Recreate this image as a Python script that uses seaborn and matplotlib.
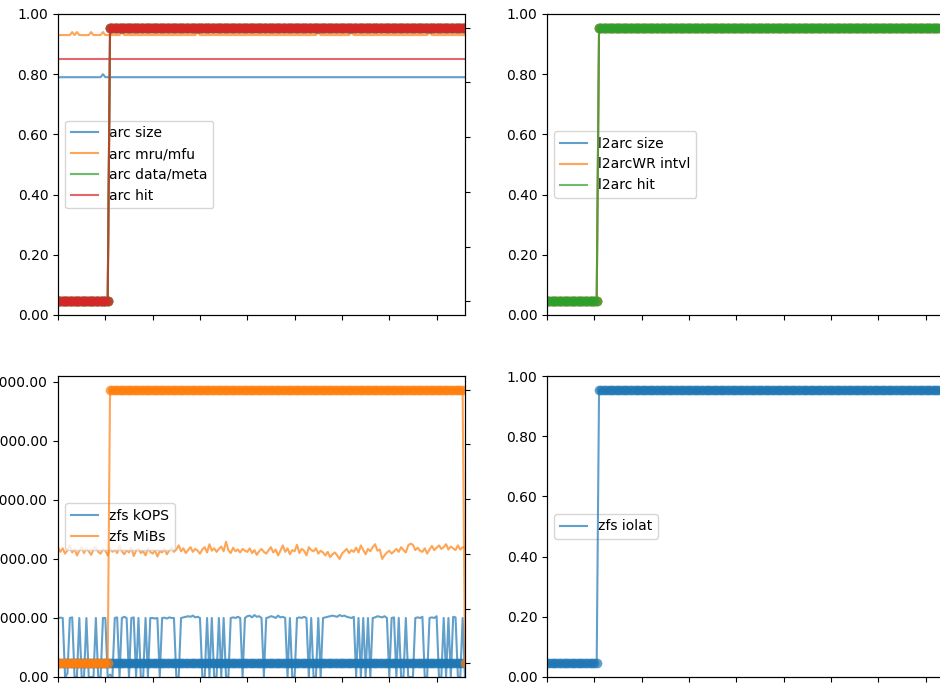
import pandas as pd
import matplotlib
matplotlib.use("Agg")
import matplotlib.pyplot as plt
import seaborn as sns
from matplotlib.ticker import FormatStrFormatter

# sample index along the x axis
N = 173
t = list(range(N))
nan = float("nan")

# arc panel (main axis)
arc_size = [0.79] * 19 + [0.80] + [0.79] * 153
arc_mru = ([0.93] * 6 + [0.94, 0.93, 0.94] + [0.93] * 5 + [0.94] + [0.93] * 4 + [0.94]
           + [0.93] * 7 + [0.94] + [0.93] * 31 + [0.94] + [0.93] * 50 + [0.94]
           + [0.93] * 13 + [0.94] + [0.93] * 32 + [0.94] + [0.93] * 15)
arc_data = [nan] * N
arc_hit = [0.85] * N

# l2arc panel (main axis) - nothing drawn
l2arc_size = [nan] * N
l2arc_wr = [nan] * N
l2arc_hit = [nan] * N

# zfs panel (main axis)
zfs_kops = [
    1000, 1005, 1000, 0, 60, 1000, 1010, 0, 0, 1000, 0, 0, 1000, 0, 0, 0, 1000, 0, 0, 1000,
    1000, 0, 40, 0, 1000, 1010, 0, 1000, 1020, 1000, 0, 1000, 1010, 0, 1000, 0, 0, 1000, 0, 1000,
    1000, 990, 1000, 0, 1000, 1005, 990, 1010, 1000, 1000, 0, 0, 1000, 1010, 1020, 1030, 1020, 1040, 1010, 1020,
    1000, 0, 0, 1000, 0, 1000, 0, 0, 1000, 0, 1000, 0, 0, 1000, 1010, 1000, 1020, 1000, 0, 1000,
    1030, 1040, 1010, 1050, 1020, 1030, 1000, 0, 1000, 1010, 1030, 1020, 1000, 1040, 1010, 1020, 1000, 0, 1000, 0,
    0, 1000, 1010, 1000, 1020, 1000, 0, 1000, 0, 0, 1000, 0, 1000, 1010, 1020, 1030, 1040, 1030, 1020, 1050,
    1030, 1040, 1020, 1010, 1000, 1020, 0, 1000, 0, 1000, 0, 1000, 0, 1000, 1010, 1030, 1020, 1010, 1030, 1000,
    0, 1000, 1010, 0, 1000, 0, 0, 1000, 0, 0, 0, 1000, 1010, 1000, 1020, 0, 0, 1000, 1010, 1000,
    1030, 0, 0, 1000, 0, 1000, 0, 1020, 1010, 0, 0, 1000, 0,
]
zfs_mibs = [
    2200, 2120, 2180, 2090, 2150, 2230, 2110, 2170, 2060, 2140, 2200, 2100, 2180, 2130, 2070, 2160, 2210, 2120, 2090, 2170,
    2140, 2060, 2190, 2120, 2160, 2100, 2220, 2130, 2080, 2150, 2110, 2190, 2050, 2140, 2170, 2100, 2130, 2060, 2180, 2120,
    2090, 2150, 2040, 2130, 2110, 2170, 2080, 2140, 2190, 2120, 2160, 2230, 2130, 2180, 2100, 2150, 2200, 2120, 2170, 2140,
    2090, 2160, 2200, 2110, 2250, 2140, 2180, 2120, 2170, 2210, 2130, 2290, 2150, 2100, 2190, 2130, 2160, 2110, 2170, 2140,
    2120, 2180, 2100, 2150, 2070, 2130, 2170, 2120, 2090, 2150, 2200, 2110, 2160, 2060, 2140, 2230, 2120, 2180, 2080, 2150,
    2130, 2240, 2100, 2170, 2140, 2060, 2200, 2150, 2130, 2180, 2090, 2140, 2110, 2060, 2120, 2030, 2080, 2110, 2060, 2000,
    2090, 2130, 2170, 2100, 2150, 2120, 2190, 2110, 2230, 2150, 2080, 2170, 2130, 2200, 2250, 2140, 2160, 2000, 2060, 2110,
    2140, 2090, 2130, 2170, 2120, 2200, 2150, 2110, 2230, 2260, 2240, 2150, 2190, 2140, 2120, 2180, 2090, 2160, 2220, 2150,
    2190, 2230, 2170, 2200, 2250, 2160, 2210, 2180, 2150, 2230, 2160, 2200, 2190,
]

# zfs iolat panel (main axis) - nothing drawn
zfs_iolat = [nan] * N

# state markers on the twin axis
step = [0.05] * 22 + [0.95] * 151
zfs_mibs_flag = [0.05] * 22 + [0.95] * 150 + [0.05]
zfs_kops_flag = [0.05] * N

colors = sns.color_palette("tab10")


def panel(fig, rect, names, series, flags, ylim, yticks):
    ax = fig.add_axes(rect)
    pal = {n: colors[i] for i, n in enumerate(names)}

    main = pd.concat([pd.DataFrame({"t": t, "value": v, "series": n})
                      for n, v in zip(names, series)], ignore_index=True)
    sns.lineplot(data=main, x="t", y="value", hue="series", palette=pal,
                 alpha=0.7, linewidth=1.5, ax=ax)
    sns.move_legend(ax, "center left", title=None)

    ax2 = ax.twinx()
    fl = pd.concat([pd.DataFrame({"t": t, "flag": v, "series": n})
                    for n, v in zip(names, flags)], ignore_index=True)
    sns.lineplot(data=fl, x="t", y="flag", hue="series", palette=pal,
                 alpha=0.7, linewidth=1.5, marker="o", markersize=7,
                 markeredgewidth=0, legend=False, ax=ax2)

    ax.set_xlim(0, N - 1)
    ax.set_xticks(range(0, N - 1, 20))
    ax.set_xticklabels([])
    ax.set_ylim(*ylim)
    ax.set_yticks(yticks)
    ax.yaxis.set_major_formatter(FormatStrFormatter("%.2f"))
    ax.set_xlabel("")
    ax.set_ylabel("")

    # twin axis keeps the default 5% margin around 0.05..0.95
    ax2.set_ylim(0.005, 0.995)
    ax2.set_yticks([0.05, 0.23, 0.41, 0.59, 0.77, 0.95])
    ax2.set_yticklabels([])
    ax2.set_ylabel("")
    return ax


fig = plt.figure(figsize=(9.4, 6.84), dpi=100)
W, H = 940, 684
w, h = 407 / W, 301 / H
lx, rx = 58 / W, 547 / W
ty, by = 1 - 315 / H, 1 - 677 / H

panel(fig, [lx, ty, w, h], ["arc size", "arc mru/mfu", "arc data/meta", "arc hit"],
      [arc_size, arc_mru, arc_data, arc_hit], [step, step, step, step],
      (0, 1), [0, 0.2, 0.4, 0.6, 0.8, 1.0])
panel(fig, [rx, ty, w, h], ["l2arc size", "l2arcWR intvl", "l2arc hit"],
      [l2arc_size, l2arc_wr, l2arc_hit], [step, step, step],
      (0, 1), [0, 0.2, 0.4, 0.6, 0.8, 1.0])
panel(fig, [lx, by, w, h], ["zfs kOPS", "zfs MiBs"],
      [zfs_kops, zfs_mibs], [zfs_kops_flag, zfs_mibs_flag],
      (0, 5100), [0, 1000, 2000, 3000, 4000, 5000])
panel(fig, [rx, by, w, h], ["zfs iolat"], [zfs_iolat], [step],
      (0, 1), [0, 0.2, 0.4, 0.6, 0.8, 1.0])

fig.savefig("out.png", dpi=100)
